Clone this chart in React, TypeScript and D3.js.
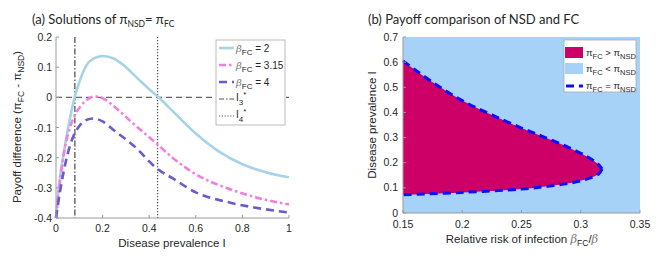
import React from 'react';
import * as d3 from 'd3';

// panel (a): payoff difference curves, [I, value]
const beta2: [number, number][] = [
  [0, -0.4], [0.01, -0.31], [0.02, -0.25], [0.03, -0.2], [0.05, -0.11], [0.065, -0.05], [0.08, 0],
  [0.1, 0.05], [0.13, 0.105], [0.16, 0.128], [0.2, 0.137], [0.25, 0.128], [0.3, 0.1],
  [0.35, 0.063], [0.4, 0.027], [0.44, 0], [0.5, -0.045], [0.6, -0.12], [0.7, -0.18],
  [0.8, -0.222], [0.9, -0.248], [1, -0.265],
];
const beta315: [number, number][] = [
  [0, -0.4], [0.02, -0.26], [0.04, -0.16], [0.06, -0.1], [0.08, -0.06], [0.1, -0.035],
  [0.13, -0.01], [0.17, 0.003], [0.2, -0.003], [0.26, -0.037], [0.33, -0.086], [0.43, -0.152],
  [0.5, -0.2], [0.6, -0.255], [0.73, -0.3], [0.85, -0.33], [1, -0.355],
];
const beta4: [number, number][] = [
  [0, -0.4], [0.02, -0.3], [0.04, -0.22], [0.06, -0.16], [0.08, -0.12], [0.1, -0.095],
  [0.13, -0.075], [0.16, -0.07], [0.2, -0.08], [0.25, -0.11], [0.33, -0.158], [0.44, -0.24],
  [0.5, -0.268], [0.6, -0.315], [0.73, -0.346], [0.85, -0.365], [1, -0.382],
];
const I3 = 0.081;
const I4 = 0.436;
const xTicksA = [0, 0.2, 0.4, 0.6, 0.8, 1];
const yTicksA = [0.2, 0.1, 0, -0.1, -0.2, -0.3, -0.4];

// panel (b): boundary pi_FC = pi_NSD, [beta_FC/beta, I]
const upper: [number, number][] = [
  [0.15, 0.605], [0.175, 0.52], [0.2, 0.447], [0.225, 0.39], [0.25, 0.338], [0.27, 0.3],
  [0.29, 0.26], [0.305, 0.225], [0.314, 0.197], [0.318, 0.175],
];
const lower: [number, number][] = [
  [0.318, 0.175], [0.315, 0.155], [0.305, 0.135], [0.29, 0.118], [0.27, 0.105],
  [0.25, 0.095], [0.2, 0.082], [0.15, 0.072],
];
const xTicksB = [0.15, 0.2, 0.25, 0.3, 0.35];
const yTicksB = [0, 0.1, 0.2, 0.3, 0.4, 0.5, 0.6, 0.7];

const SANS = 'Liberation Sans, Arial, sans-serif';
const TITLE = 'Lato, Open Sans, sans-serif';
const AX = '#999';
const TXT = '#262626';

const xA = d3.scaleLinear().domain([0, 1]).range([56, 289]);
const yA = d3.scaleLinear().domain([-0.4, 0.2]).range([218, 37]);
const xB = d3.scaleLinear().domain([0.15, 0.35]).range([403, 640]);
const yB = d3.scaleLinear().domain([0, 0.7]).range([213, 37]);

const lineA = d3.line<[number, number]>().x(d => xA(d[0])).y(d => yA(d[1])).curve(d3.curveMonotoneX);
const lineB = d3.line<[number, number]>().x(d => xB(d[0])).y(d => yB(d[1])).curve(d3.curveCatmullRom);

export default function App() {
  const region = lineB([...upper, ...lower.slice(1)]) + 'Z';
  return (
    <div style={{ position: 'absolute', left: 0, top: 0 }}>
      <svg width={664} height={261} style={{ display: 'block', background: '#fff' }}>
        {/* ---------- panel (a) ---------- */}
        <text x={32} y={24} fontFamily={TITLE} fontSize={13} fill={TXT}>
          (a) Solutions of π<tspan fontSize={8.5} dy={3}>NSD</tspan><tspan dy={-3}>= π</tspan>
          <tspan fontSize={8.5} dy={3}>FC</tspan>
        </text>
        <line x1={xA(0)} x2={xA(1)} y1={yA(0)} y2={yA(0)} stroke="#666" strokeWidth={1.3} strokeDasharray="6,4" />
        <line x1={xA(I3)} x2={xA(I3)} y1={yA(0.2)} y2={yA(-0.4)} stroke="#555" strokeWidth={1.3} strokeDasharray="6,2,1.5,2" />
        <line x1={xA(I4)} x2={xA(I4)} y1={yA(0.2)} y2={yA(-0.4)} stroke="#555" strokeWidth={1.2} strokeDasharray="1.3,1.7" />
        <path d={lineA(beta2) ?? ''} fill="none" stroke="#a6d3e8" strokeWidth={2.6} />
        <path d={lineA(beta315) ?? ''} fill="none" stroke="#f07fe0" strokeWidth={2.6} strokeDasharray="7,3,2.5,3" />
        <path d={lineA(beta4) ?? ''} fill="none" stroke="#6a5acd" strokeWidth={2.6} strokeDasharray="8,5" />
        <line x1={56} x2={56} y1={37} y2={218} stroke={AX} />
        <line x1={56} x2={289} y1={218} y2={218} stroke={AX} />
        {xTicksA.map(t => (
          <g key={'xa' + t}>
            <line x1={xA(t)} x2={xA(t)} y1={218} y2={215} stroke={AX} />
            <text x={xA(t)} y={232} textAnchor="middle" fontFamily={SANS} fontSize={10.5} fill={TXT}>{t}</text>
          </g>
        ))}
        {yTicksA.map(t => (
          <g key={'ya' + t}>
            <line x1={56} x2={59} y1={yA(t)} y2={yA(t)} stroke={AX} />
            <text x={52} y={yA(t) + 4} textAnchor="end" fontFamily={SANS} fontSize={10.5} fill={TXT}>{t}</text>
          </g>
        ))}
        <text x={172} y={247} textAnchor="middle" fontFamily={SANS} fontSize={11.5} fill={TXT}>Disease prevalence I</text>
        <text transform="translate(21,127) rotate(-90)" textAnchor="middle" fontFamily={SANS} fontSize={11.5} fill={TXT}>
          Payoff difference (π<tspan fontSize={8.5} dy={3}>FC</tspan><tspan dy={-3}> - π</tspan>
          <tspan fontSize={8.5} dy={3}>NSD</tspan><tspan dy={-3}>)</tspan>
        </text>
        {/* legend (a) */}
        <rect x={216} y={40} width={69} height={85} fill="#fff" stroke="#aaa" strokeWidth={0.8} />
        {[
          { lab: '2', stroke: '#a6d3e8', dash: '', y: 48 },
          { lab: '3.15', stroke: '#f07fe0', dash: '7,3,2.5,3', y: 65 },
          { lab: '4', stroke: '#6a5acd', dash: '8,5', y: 82 },
        ].map(r => (
          <g key={r.lab}>
            <line x1={219} x2={234} y1={r.y} y2={r.y} stroke={r.stroke} strokeWidth={2.6} strokeDasharray={r.dash} />
            <text x={236} y={r.y + 4} fontFamily={SANS} fontSize={10} fill={TXT}>
              <tspan fontFamily="DejaVu Serif, serif" fontStyle="italic" fill="#777">β</tspan>
              <tspan fontSize={8} dy={3}>FC</tspan><tspan dy={-3}> = {r.lab}</tspan>
            </text>
          </g>
        ))}
        <line x1={219} x2={234} y1={99} y2={99} stroke="#555" strokeWidth={1.2} strokeDasharray="5,2,1.5,2" />
        <text x={236} y={101} fontFamily={SANS} fontSize={10} fill={TXT}>
          I<tspan fontSize={8} dy={4}>3</tspan><tspan fontSize={8} dy={-8}>*</tspan>
        </text>
        <line x1={219} x2={234} y1={116} y2={116} stroke="#555" strokeWidth={1.1} strokeDasharray="1.2,1.6" />
        <text x={236} y={118} fontFamily={SANS} fontSize={10} fill={TXT}>
          I<tspan fontSize={8} dy={4}>4</tspan><tspan fontSize={8} dy={-8}>*</tspan>
        </text>

        {/* ---------- panel (b) ---------- */}
        <text x={368} y={24} fontFamily={TITLE} fontSize={13} fill={TXT}>(b) Payoff comparison of NSD and FC</text>
        <rect x={403} y={37} width={237} height={176} fill="#a6d2f8" />
        <path d={region} fill="#cc0066" />
        <path d={lineB(upper) ?? ''} fill="none" stroke="#0d0dff" strokeWidth={3} strokeDasharray="8,5" />
        <path d={lineB(lower) ?? ''} fill="none" stroke="#0d0dff" strokeWidth={3} strokeDasharray="8,5" />
        <line x1={403} x2={403} y1={37} y2={213} stroke={AX} />
        <line x1={403} x2={640} y1={213} y2={213} stroke={AX} />
        {xTicksB.map(t => (
          <g key={'xb' + t}>
            <line x1={xB(t)} x2={xB(t)} y1={213} y2={210} stroke={AX} />
            <text x={xB(t)} y={228} textAnchor="middle" fontFamily={SANS} fontSize={10.5} fill={TXT}>{t}</text>
          </g>
        ))}
        {yTicksB.map(t => (
          <g key={'yb' + t}>
            <line x1={403} x2={406} y1={yB(t)} y2={yB(t)} stroke={AX} />
            <text x={398} y={yB(t) + 3.5} textAnchor="end" fontFamily={SANS} fontSize={10.5} fill={TXT}>{t}</text>
          </g>
        ))}
        <text x={522} y={243} textAnchor="middle" fontFamily={SANS} fontSize={11.5} fill={TXT}>
          Relative risk of infection <tspan fontFamily="DejaVu Serif, serif" fontStyle="italic" fill="#777">β</tspan>
          <tspan fontSize={8.5} dy={3}>FC</tspan><tspan dy={-3}>/</tspan>
          <tspan fontFamily="DejaVu Serif, serif" fontStyle="italic" fill="#777">β</tspan>
        </text>
        <text transform="translate(376,125) rotate(-90)" textAnchor="middle" fontFamily={SANS} fontSize={11.5} fill={TXT}>
          Disease prevalence I
        </text>
        {/* legend (b) */}
        <rect x={564} y={40} width={72} height={52} fill="#fff" stroke="#aaa" strokeWidth={0.8} />
        <rect x={565} y={47} width={18} height={11} fill="#cc0066" />
        <rect x={565} y={63} width={18} height={11} fill="#a6d2f8" />
        <line x1={566} x2={583} y1={86} y2={86} stroke="#0d0dff" strokeWidth={3} strokeDasharray="8,5" />
        {[{ op: '>', y: 56 }, { op: '<', y: 72 }, { op: '=', y: 89 }].map(r => (
          <text key={r.op} x={586} y={r.y} fontFamily={SANS} fontSize={9.5} fill={TXT}>
            π<tspan fontSize={7.5} dy={2.5}>FC</tspan><tspan dy={-2.5}> {r.op} π</tspan>
            <tspan fontSize={7.5} dy={2.5}>NSD</tspan>
          </text>
        ))}
      </svg>
    </div>
  );
}
